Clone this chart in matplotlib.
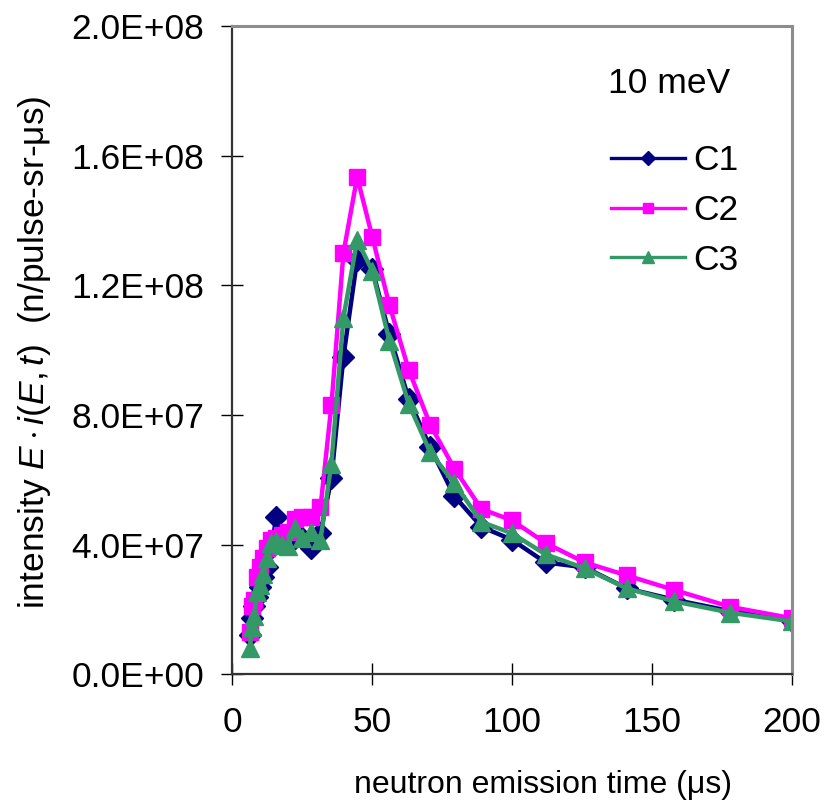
import matplotlib.pyplot as plt
from matplotlib.lines import Line2D

plt.rcParams['font.family'] = ['Liberation Sans', 'DejaVu Sans']
plt.rcParams['mathtext.fontset'] = 'custom'
plt.rcParams['mathtext.rm'] = 'Liberation Sans'
plt.rcParams['mathtext.it'] = 'Liberation Sans:italic'

# emission time grid (us), 20 points per decade
t = [6.31, 7.08, 7.94, 8.91, 10.0, 11.2, 12.6, 14.1, 15.8, 17.8,
     20.0, 22.4, 25.1, 28.2, 31.6, 35.5, 39.8, 44.7, 50.1, 56.2,
     63.1, 70.8, 79.4, 89.1, 100.0, 112.0, 126.0, 141.0, 158.0, 178.0, 200.0]

# intensities in units of 1e7
c1 = [1.2, 1.75, 2.1, 2.4, 2.7, 3.0, 3.3, 3.9, 4.85, 4.3,
      4.1, 4.2, 4.2, 3.9, 4.35, 6.05, 9.8, 12.8, 12.5, 10.5,
      8.5, 7.0, 5.5, 4.55, 4.15, 3.45, 3.3, 2.65, 2.3, 1.95, 1.65]
c2 = [1.3, 2.1, 2.3, 3.0, 3.3, 3.6, 3.9, 4.15, 4.2, 4.3,
      4.4, 4.8, 4.85, 4.85, 5.15, 8.3, 13.0, 15.35, 13.5, 11.4,
      9.4, 7.7, 6.35, 5.1, 4.75, 4.05, 3.45, 3.05, 2.6, 2.08, 1.73]
c3 = [0.8, 1.45, 1.8, 2.55, 2.75, 3.1, 3.6, 4.05, 4.1, 4.0,
      3.95, 4.5, 4.2, 4.4, 4.15, 6.5, 11.0, 13.4, 12.45, 10.3,
      8.35, 6.85, 5.9, 4.7, 4.35, 3.7, 3.27, 2.65, 2.25, 1.9, 1.63]

labels = ['C1', 'C2', 'C3']
colors = ['#000080', '#FF00FF', '#339966']
markers = ['D', 's', '^']
sizes = [11, 12, 13.5]

fs = 25.5

fig = plt.figure(figsize=(8.25, 8.11), dpi=100)
ax = fig.add_axes([0.2812, 0.1686, 0.6788, 0.799])

for ys, lab, col, mk, ms in zip([c1, c2, c3], labels, colors, markers, sizes):
    ax.plot(t, [v * 1e7 for v in ys], color=col, marker=mk, markersize=ms,
            linewidth=3.2, label=lab)

ax.set_xlim(0, 200)
ax.set_ylim(0, 2.0e8)
ax.set_xticks([0, 50, 100, 150, 200])
ax.set_yticks([0, 4e7, 8e7, 1.2e8, 1.6e8, 2.0e8])
ax.set_yticklabels(['0.0E+00', '4.0E+07', '8.0E+07', '1.2E+08', '1.6E+08', '2.0E+08'])
ax.tick_params(direction='inout', length=16, width=1, labelsize=fs, color='black')
ax.tick_params(axis='y', pad=12)
ax.tick_params(axis='x', pad=15)

for s in ['left', 'bottom']:
    ax.spines[s].set_color('#333333')
    ax.spines[s].set_linewidth(1.6)
for s in ['top', 'right']:
    ax.spines[s].set_color('#8c8c8c')
    ax.spines[s].set_linewidth(2.2)

ax.set_xlabel('neutron emission time (μs)', fontsize=23)
ax.xaxis.set_label_coords(0.555, -0.147)
ax.set_ylabel(r'intensity $E\cdot i(E,t)$  (n/pulse-sr-μs)', fontsize=fs)
ax.yaxis.set_label_coords(-0.32, 0.497)

ax.text(0.671, 0.912, '10 meV', transform=ax.transAxes, fontsize=fs, va='center', ha='left')

handles = [Line2D([], [], color=c, marker=m, markersize=s * 0.62, linewidth=2.4)
           for c, m, s in zip(colors, markers, sizes)]
ax.legend(handles, labels, loc='upper left', bbox_to_anchor=(0.645, 0.845),
          frameon=False, fontsize=fs, handlelength=2.1, handletextpad=0.22,
          labelspacing=0.47, borderpad=0)

fig.savefig('out.png', dpi=100)
